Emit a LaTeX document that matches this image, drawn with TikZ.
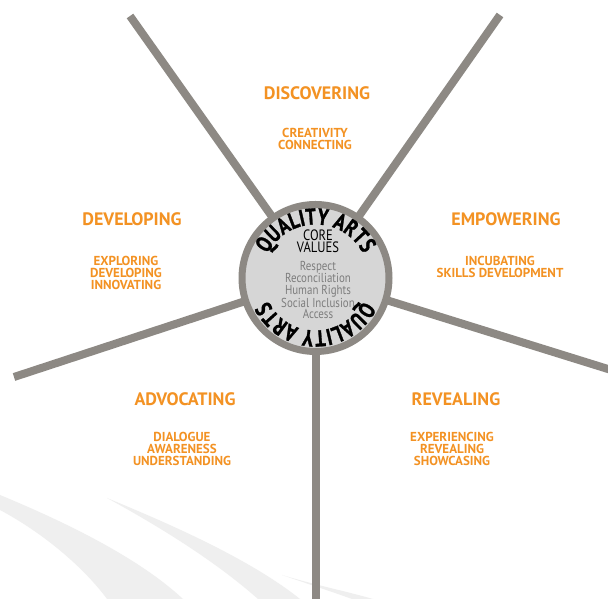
\documentclass[tikz,border=0pt]{standalone}
\usepackage{fontspec}
\usetikzlibrary{decorations.text}
\newfontfamily\lblfont{PT Sans}
\newfontfamily\corefont[FakeStretch=0.84]{PT Sans}
\newfontfamily\arcfont[FakeStretch=0.80,FakeBold=1.2]{PT Sans}
\definecolor{spoke}{RGB}{141,137,132}
\definecolor{hubfill}{RGB}{214,214,214}
\definecolor{accent}{RGB}{243,146,35}
\definecolor{valgray}{RGB}{125,125,125}
\definecolor{swooshgray}{RGB}{239,239,239}
\begin{document}
\begin{tikzpicture}[x=1pt,y=1pt,
  spokeline/.style={draw=spoke, line width=8pt},
  hub/.style={circle, draw=spoke, line width=7pt, fill=hubfill, minimum size=147pt, inner sep=0pt},
  heading/.style={text=accent, inner sep=0pt, font=\lblfont\bfseries\fontsize{18}{18}\selectfont},
  items/.style={text=accent, inner sep=0pt, align=center, font=\lblfont\bfseries\fontsize{13}{12}\selectfont},
  coretitle/.style={text=black, inner sep=0pt, align=center, font=\corefont\fontsize{15}{12}\selectfont},
  corelist/.style={text=valgray, inner sep=0pt, align=center, font=\corefont\fontsize{13}{11.5}\selectfont},
  arctext/.style={decorate, decoration={text along path, text align=center,
      text={|\arcfont\bfseries\fontsize{23}{23}\selectfont|QUALITY ARTS}}},
  swoosh/.style={fill=swooshgray, draw=none}
]
\fill[white] (0,0) rectangle (608,599);
\useasboundingbox (0,0) rectangle (608,599);

% background swooshes
\path[swoosh] (-2,105) -- (0,104) .. controls (70,75) and (140,40) .. (183,0)
  -- (107,0) .. controls (85,30) and (45,65) .. (0,89) -- (-2,88) -- cycle;
\path[swoosh] (107,101) .. controls (170,75) and (250,40) .. (300,0)
  -- (258,0) .. controls (215,38) and (160,72) .. (107,101) -- cycle;
\path[swoosh] (282,24) .. controls (315,14) and (345,8) .. (373,0)
  -- (352,0) .. controls (330,8) and (305,16) .. (282,24) -- cycle;

% spokes
\coordinate (c) at (315.5,321);
\coordinate (tl) at (130,583);
\coordinate (tr) at (500,584);
\coordinate (le) at (14,222);
\coordinate (ri) at (615,227.8);
\coordinate (bo) at (315.5,-5);
\draw[spokeline] (c) -- (tl);
\draw[spokeline] (c) -- (tr);
\draw[spokeline] (c) -- (le);
\draw[spokeline] (c) -- (ri);
\draw[spokeline] (c) -- (bo);

% hub
\node[hub] (hubc) at (c) {};
\path[arctext] (c) ++(165:53.5) arc[start angle=165, end angle=15, radius=53.5];
\path[arctext] (c) ++(-15:52.5) arc[start angle=-15, end angle=-165, radius=52.5];
\node[coretitle] (core) at (318,358) {CORE\\VALUES};
\node[corelist] (vals) at (318,309) {Respect\\Reconciliation\\Human Rights\\Social Inclusion\\Access};

% labels
\node[heading] (disc) at (317,506) {DISCOVERING};
\node[items] (disci) at (315,460) {CREATIVITY\\CONNECTING};
\node[heading] (devl) at (132,380) {DEVELOPING};
\node[items] (devi) at (126,326.5) {EXPLORING\\DEVELOPING\\INNOVATING};
\node[heading] (empw) at (506,380) {EMPOWERING};
\node[items] (empi) at (500,332.5) {INCUBATING\\SKILLS DEVELOPMENT};
\node[heading] (advo) at (185,200) {ADVOCATING};
\node[items] (advi) at (182,150.5) {DIALOGUE\\AWARENESS\\UNDERSTANDING};
\node[heading] (reve) at (456,200) {REVEALING};
\node[items] (revi) at (452,150) {EXPERIENCING\\REVEALING\\SHOWCASING};
\end{tikzpicture}
\end{document}
